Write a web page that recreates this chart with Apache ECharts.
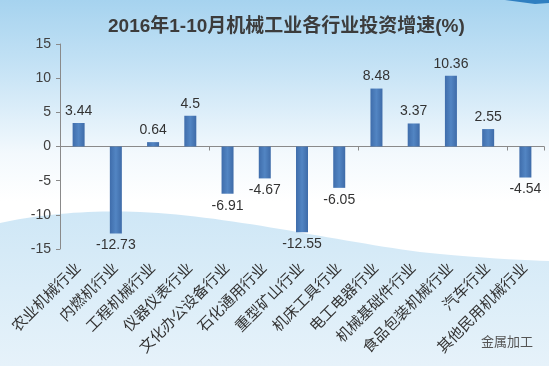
<!DOCTYPE html>
<html><head><meta charset="utf-8">
<script src="https://cdn.jsdelivr.net/npm/echarts@6/dist/echarts.min.js"></script>
<style>html,body{margin:0;padding:0;background:#fff;}#c{width:549px;height:366px;}</style>
</head><body><div id="c"></div>
<script>
const titleText = '2016年1-10月机械工业各行业投资增速(%)';
const categories = ['农业机械行业','内燃机行业','工程机械行业','仪器仪表行业','文化办公设备行业','石化通用行业','重型矿山行业','机床工具行业','电工电器行业','机械基础件行业','食品包装机械行业','汽车行业','其他民用机械行业'];
const values = [3.44, -12.73, 0.64, 4.5, -6.91, -4.67, -12.55, -6.05, 8.48, 3.37, 10.36, 2.55, -4.54];
const yMin = -15, yMax = 15, yStep = 5;
const watermark = '金属加工';

// decorative background wave (cubic bezier segments sampled into a polygon)
function bez(p0, p1, p2, p3, n) {
  const out = [];
  for (let i = 0; i <= n; i++) {
    const t = i / n, u = 1 - t;
    out.push([
      u*u*u*p0[0] + 3*u*u*t*p1[0] + 3*u*t*t*p2[0] + t*t*t*p3[0],
      u*u*u*p0[1] + 3*u*u*t*p1[1] + 3*u*t*t*p2[1] + t*t*t*p3[1]
    ]);
  }
  return out;
}
const wavePts = [].concat(
  bez([0,223],[40,214],[90,210],[140,212],20),
  bez([140,212],[230,216],[330,240],[420,252],30),
  bez([420,252],[480,258],[520,260],[549,261],10),
  [[549,366],[0,366]]
);

const FONT = '"Liberation Sans", "Noto Sans CJK SC", sans-serif';
const chart = echarts.init(document.getElementById('c'), null, {renderer: 'canvas'});
chart.setOption({
  animation: false,
  backgroundColor: {
    type: 'linear', x: 0, y: 0, x2: 0, y2: 1,
    colorStops: [
      {offset: 0, color: '#a6d3ef'},
      {offset: 0.18, color: '#c4e2f5'},
      {offset: 0.42, color: '#f3f9fd'},
      {offset: 0.55, color: '#ffffff'},
      {offset: 1, color: '#ffffff'}
    ]
  },
  graphic: [
    {
      type: 'polygon', z: -10, silent: true,
      shape: {points: wavePts},
      style: {
        fill: {type: 'linear', x: 0, y: 0, x2: 0, y2: 1, colorStops: [
          {offset: 0, color: '#cfe7f6'}, {offset: 0.5, color: '#dbedf8'}, {offset: 1, color: '#e6f2fa'}]}
      }
    },
    {
      type: 'polygon', z: -9, silent: true,
      shape: {points: [[505,0],[520,2],[535,4],[549,3],[549,0]]},
      style: {fill: '#2f7fc1'}
    },
    {
      type: 'text', left: 481, top: 335, silent: true,
      style: {text: watermark, fill: '#555', font: '13px "Noto Sans CJK SC", sans-serif'}
    }
  ],
  title: {
    text: titleText,
    left: 103, top: 12,
    textStyle: {fontFamily: FONT, fontSize: 19, fontWeight: 'bold', color: '#3c3c3c'}
  },
  grid: {left: 60, right: 5, top: 44, bottom: 117, containLabel: false},
  xAxis: [
    {
      type: 'category', data: categories,
      axisLine: {show: true, onZero: true, lineStyle: {color: '#8a8a8a', width: 1}},
      axisTick: {show: true, length: 4, lineStyle: {color: '#8a8a8a'}},
      axisLabel: {show: false},
      splitLine: {show: false}
    },
    {
      type: 'category', data: categories, position: 'bottom',
      axisLine: {show: false, onZero: false},
      axisTick: {show: false},
      axisLabel: {show: true, rotate: 45, interval: 0, margin: 17, fontSize: 15, color: '#333', fontFamily: FONT},
      splitLine: {show: false}
    }
  ],
  yAxis: {
    type: 'value', min: yMin, max: yMax, interval: yStep,
    axisLine: {show: true, lineStyle: {color: '#8a8a8a', width: 1}},
    axisTick: {show: true, length: 4, lineStyle: {color: '#8a8a8a'}},
    axisLabel: {fontSize: 14, color: '#404040', margin: 9, fontFamily: FONT},
    splitLine: {show: false}
  },
  series: [{
    type: 'bar', xAxisIndex: 0, barWidth: 12,
    data: values.map(v => ({value: v, label: {position: v >= 0 ? 'top' : 'bottom'}})),
    itemStyle: {
      color: {type: 'linear', x: 0, y: 0, x2: 1, y2: 0, colorStops: [
        {offset: 0, color: '#3f6dab'}, {offset: 0.5, color: '#5285c3'}, {offset: 1, color: '#3e6ba8'}]}
    },
    label: {show: true, distance: 5, fontSize: 14, color: '#333', fontFamily: FONT, formatter: p => String(p.value)}
  }]
});
</script>
</body></html>
